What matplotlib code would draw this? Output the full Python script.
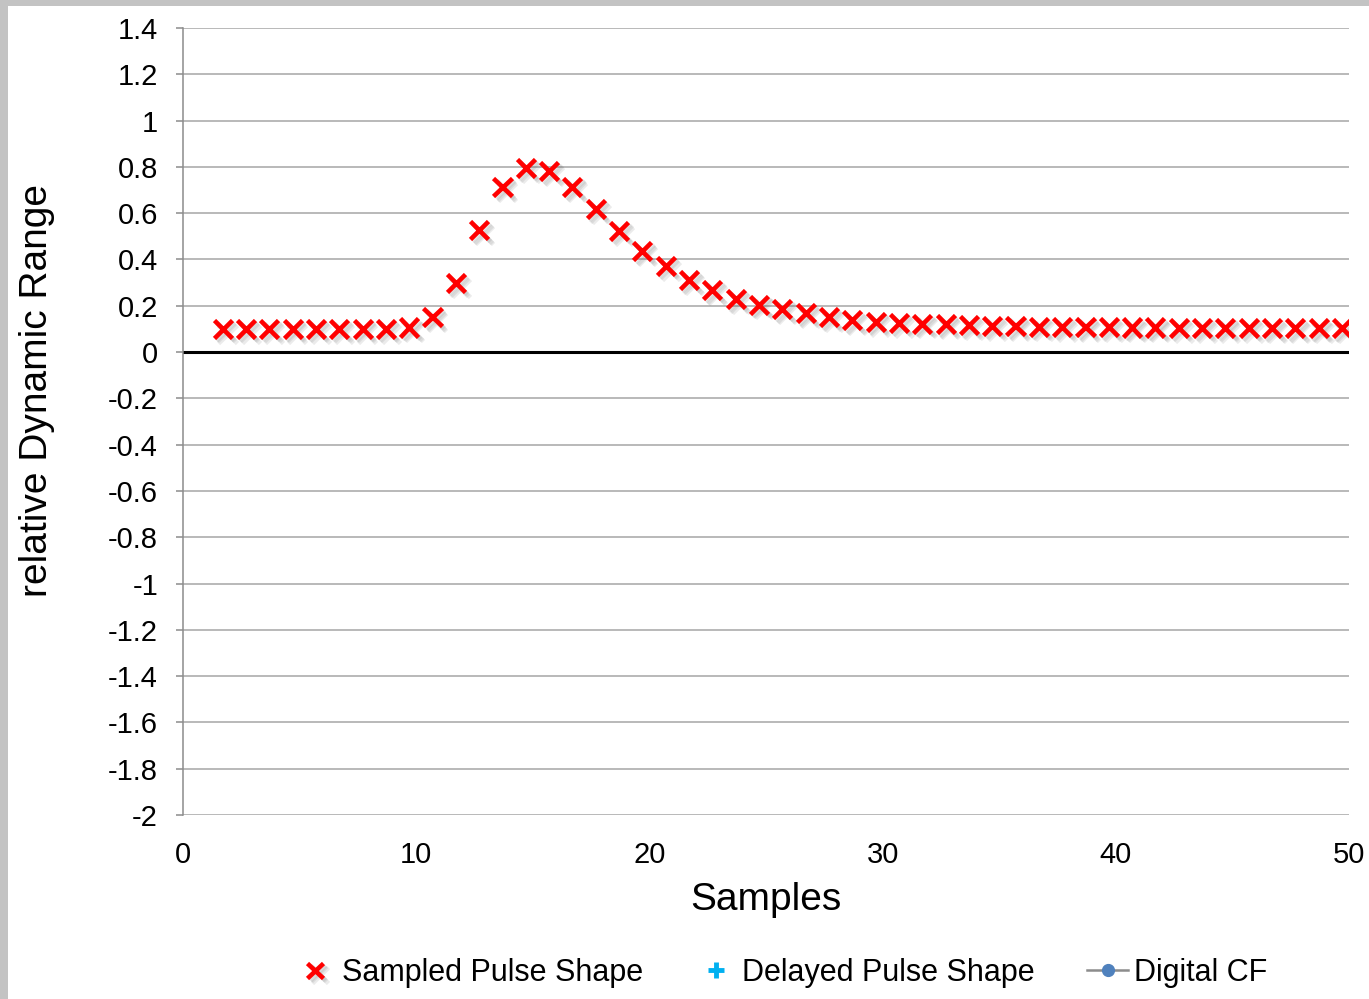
import matplotlib
matplotlib.use("Agg")
import matplotlib.pyplot as plt
import matplotlib.patheffects as pe
from matplotlib.patches import Rectangle

plt.rcParams["font.family"] = ["Liberation Sans", "DejaVu Sans"]

# Sample positions and sampled pulse amplitudes
sample_x = [1.7, 2.7, 3.7, 4.7, 5.7, 6.7, 7.7, 8.7, 9.7, 10.7,
            11.7, 12.7, 13.7, 14.7, 15.7, 16.7, 17.7, 18.7, 19.7, 20.7,
            21.7, 22.7, 23.7, 24.7, 25.7, 26.7, 27.7, 28.7, 29.7, 30.7,
            31.7, 32.7, 33.7, 34.7, 35.7, 36.7, 37.7, 38.7, 39.7, 40.7,
            41.7, 42.7, 43.7, 44.7, 45.7, 46.7, 47.7, 48.7, 49.7]
sampled = [0.10, 0.10, 0.10, 0.10, 0.10, 0.10, 0.10, 0.10, 0.106, 0.151,
           0.298, 0.527, 0.713, 0.795, 0.782, 0.713, 0.618, 0.523, 0.436, 0.372,
           0.311, 0.268, 0.229, 0.205, 0.186, 0.168, 0.151, 0.138, 0.130, 0.126,
           0.123, 0.120, 0.116, 0.113, 0.111, 0.110, 0.109, 0.108, 0.107, 0.106,
           0.106, 0.105, 0.105, 0.104, 0.104, 0.103, 0.103, 0.102, 0.102]

# The other two series carry no points in this view
delayed_x, delayed = [], []
cf_x, cf = [], []

y_ticks = [1.4, 1.2, 1, 0.8, 0.6, 0.4, 0.2, 0, -0.2, -0.4, -0.6, -0.8,
           -1, -1.2, -1.4, -1.6, -1.8, -2]
x_ticks = [0, 10, 20, 30, 40, 50]

W, H = 1369, 999
fig = plt.figure(figsize=(W / 100, H / 100), dpi=100, facecolor="#c3c3c3")
fig.patches.append(Rectangle((8 / W, 0), 1 - 8 / W, 1 - 6 / H,
                             transform=fig.transFigure, facecolor="white",
                             edgecolor="none", zorder=-1))

ax = fig.add_axes([183 / W, 1 - 815 / H, (1349 - 183) / W, (815 - 28) / H])
ax.set_facecolor("white")
ax.set_xlim(0, 50)
ax.set_ylim(-2, 1.4)

for v in y_ticks:
    if v == 0:
        continue
    ax.axhline(v, color="#a6a6a6", lw=1.1, zorder=1)
ax.axhline(0, color="black", lw=2.2, zorder=2)

# soft drop shadow: a few offset copies stacked at low alpha
shadow = [pe.SimpleLineShadow(offset=(d, -d), shadow_color="#606060", alpha=0.12)
          for d in (1.5, 2.5, 3.5)]
shadow.append(pe.Normal())
ax.plot(sample_x, sampled, linestyle="none", marker="x", color="#ff0000",
        markersize=13, markeredgewidth=3.3, zorder=4, path_effects=shadow,
        label="Sampled Pulse Shape")
ax.plot(delayed_x, delayed, linestyle="none", marker="+", color="#00b0f0",
        markersize=13, markeredgewidth=3.5, label="Delayed Pulse Shape")
ax.plot(cf_x, cf, color="#8c8c8c", lw=1.8, marker="o", markersize=10,
        markerfacecolor="#4f81bd", markeredgecolor="#4f81bd", label="Digital CF")

for side in ("top", "right", "bottom"):
    ax.spines[side].set_visible(False)
ax.spines["left"].set_color("#8c8c8c")
ax.spines["left"].set_linewidth(1.1)

ax.set_yticks(y_ticks)
ax.set_yticklabels([f"{v:g}" for v in y_ticks])
ax.set_xticks(x_ticks)
ax.tick_params(axis="y", length=5, width=1.1, color="#8c8c8c", pad=13,
               labelsize=21)
ax.tick_params(axis="x", length=0, pad=19, labelsize=21)

ax.set_xlabel("Samples", fontsize=28, va="center")
ax.xaxis.set_label_coords(0.5, -0.108)
ax.set_ylabel("relative Dynamic Range", fontsize=28, va="center")
ax.yaxis.set_label_coords(-0.125, 0.54)

handles, labels = ax.get_legend_handles_labels()
fig.legend(handles, labels, loc="center", bbox_to_anchor=(781 / W, 1 - 973 / H),
           ncol=3, frameon=False, fontsize=22, numpoints=1,
           handlelength=1.35, handletextpad=0.2, columnspacing=1.7,
           markerscale=0.85)

fig.savefig("out.png", dpi=100, facecolor=fig.get_facecolor())
